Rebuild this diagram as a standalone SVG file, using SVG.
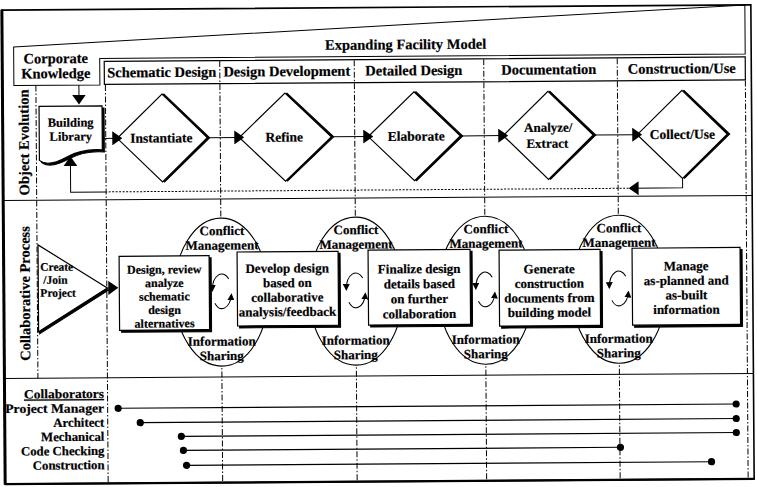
<svg xmlns="http://www.w3.org/2000/svg" width="757" height="487" viewBox="0 0 757 487">
  <style>
    .t { font-family: "Liberation Serif", "Times New Roman", serif; font-weight: bold; fill: #000; stroke: #000; stroke-width: 0.2; }
    .h { font-size: 14.5px; }
    .s { font-size: 13px; }
    .m { font-size: 13px; text-anchor: middle; }
    .k { font-size: 12.8px; text-anchor: end; }
    .c { text-anchor: middle; }
    .ln { stroke: #000; stroke-width: 1; fill: none; }
    .div { stroke: #000; stroke-width: 1; fill: none; stroke-dasharray: 6 2 1.5 2; }
    .dot { stroke: #000; stroke-width: 1; fill: none; stroke-dasharray: 2 1.5; }
    .box { fill: #fff; stroke: #000; stroke-width: 1.2; }
    .shd { fill: #000; stroke: #000; stroke-width: 1; }
    .ell { fill: #fff; stroke: #000; stroke-width: 1.1; }
  </style>
  <defs>
    <marker id="ah" viewBox="0 0 10 14" refX="5" refY="7" markerWidth="10" markerHeight="14" orient="auto" markerUnits="userSpaceOnUse">
      <path d="M0,0 L10,7 L0,14 Z" fill="#000"/>
    </marker>
    <marker id="sah" viewBox="0 0 8 8" refX="6" refY="4" markerWidth="7" markerHeight="7" orient="auto" markerUnits="userSpaceOnUse">
      <path d="M0,0 L8,4 L0,8 Z" fill="#000"/>
    </marker>
    <!-- two-arc exchange symbol between neighbouring tasks -->
    <g id="cycle">
      <path class="ln" d="M7,-12 A9.5 16 0 0 0 -9.5,-1" marker-end="url(#sah)"/>
      <path class="ln" d="M-7,12 A9.5 16 0 0 0 9.5,4" marker-end="url(#sah)"/>
    </g>
  </defs>

  <rect width="757" height="487" fill="#fff"/>

  <g transform="rotate(-0.4 378 243)">
    <!-- outer frame -->
    <g id="frame">
      <rect x="3.5" y="7.5" width="749" height="474" fill="none" stroke="#000" stroke-width="1.6"/>
      <line x1="3.5" y1="7" x2="3.5" y2="482" stroke="#000" stroke-width="3"/>
      <line x1="3" y1="481.5" x2="753" y2="481.5" stroke="#000" stroke-width="2.2"/>
    </g>

    <!-- header: expanding model band and phase headers -->
    <g id="header">
      <path class="ln" stroke-width="1.3" d="M15,44.5 L746.5,7.5 L746.5,56.5 L101,56.5 L101,83 L15,83 Z"/>
      <rect x="105.5" y="59.5" width="641" height="23" fill="none" stroke="#000" stroke-width="1.2"/>
      <text class="t h c" x="407" y="49.5">Expanding Facility Model</text>
      <text class="t h c" x="57" y="61">Corporate</text>
      <text class="t h c" x="57" y="76">Knowledge</text>
      <text class="t h c" x="163" y="75.5">Schematic Design</text>
      <text class="t h c" x="288" y="75.5">Design Development</text>
      <text class="t h c" x="415" y="75.5">Detailed Design</text>
      <text class="t h c" x="550" y="75.5">Documentation</text>
      <text class="t h c" x="683" y="75.5">Construction/Use</text>
    </g>

    <!-- swimlane grid -->
    <g id="grid">
      <line class="div" x1="37" y1="83" x2="37" y2="376"/>
      <line class="div" x1="106.5" y1="83" x2="106.5" y2="481"/>
      <line class="div" x1="221" y1="60" x2="221" y2="481"/>
      <line class="div" x1="355.5" y1="60" x2="355.5" y2="481"/>
      <line class="div" x1="485" y1="60" x2="485" y2="481"/>
      <line class="div" x1="618.5" y1="60" x2="618.5" y2="481"/>
      <line class="div" x1="746.5" y1="83" x2="746.5" y2="481"/>
      <line class="ln" stroke-width="1.4" x1="3" y1="198" x2="753" y2="198"/>
      <line class="ln" stroke-width="1.4" x1="3" y1="376" x2="753" y2="376"/>
      <text class="t h c" transform="translate(29.5 140) rotate(-90)">Object Evolution</text>
      <text class="t h c" transform="translate(29.5 291) rotate(-90)">Collaborative Process</text>
    </g>

    <!-- object evolution lane -->
    <g id="library">
      <path class="shd" d="M42,106 L105,106 L105,150 C93,149 80,151 69,157 C58,163 48,165 42,160 Z"/>
      <path class="box" d="M40,104 L103,104 L103,148 C91,147 78,149 67,155 C56,161 46,163 40,158 Z"/>
      <text class="t c" font-size="12.5" x="71.5" y="124.5">Building</text>
      <text class="t c" font-size="12.5" x="71.5" y="138.5">Library</text>
    </g>

    <g id="instantiate">
      <polygon class="shd" points="165,92.5 210.5,136.5 165,180.5 119.5,136.5"/>
      <polygon class="box" points="163,92.5 208,136.5 163,180.5 118,136.5"/>
      <text class="t c" font-size="13.5" x="162" y="141">Instantiate</text>
    </g>
    <g id="refine">
      <polygon class="shd" points="288,92.5 334.5,136.5 288,180.5 242.5,136.5"/>
      <polygon class="box" points="286,92.5 332,136.5 286,180.5 240,136.5"/>
      <text class="t c" font-size="13.5" x="285" y="141">Refine</text>
    </g>
    <g id="elaborate">
      <polygon class="shd" points="417,92 463.5,136.5 417,181 370.5,136.5"/>
      <polygon class="box" points="415,92 461,136.5 415,181 369,136.5"/>
      <text class="t c" font-size="13.5" x="417" y="141">Elaborate</text>
    </g>
    <g id="analyze">
      <polygon class="shd" points="551,92.5 596.5,136.5 551,180.5 505.5,136.5"/>
      <polygon class="box" points="549,92.5 594,136.5 549,180.5 504,136.5"/>
      <text class="t c" font-size="13" x="549" y="133">Analyze/</text>
      <text class="t c" font-size="13" x="548" y="149">Extract</text>
    </g>
    <g id="collect">
      <polygon class="shd" points="685,92.5 730.5,136.5 685,180.5 639.5,136.5"/>
      <polygon class="box" points="683,92.5 728,136.5 683,180.5 638,136.5"/>
      <text class="t c" font-size="13.5" x="683" y="141">Collect/Use</text>
    </g>

    <!-- collaborative process lane -->
    <g id="create-join">
      <polygon class="shd" points="39,244 39,331.5 108.5,288"/>
      <polygon class="box" points="38,242.5 38,329.5 107,286"/>
      <text class="t" font-size="11.5" x="40" y="268.5">Create</text>
      <text class="t" font-size="11.5" x="43" y="281.5">/Join</text>
      <text class="t" font-size="11.5" x="40" y="294.5">Project</text>
    </g>

    <g id="ellipses">
      <ellipse class="ell" cx="221" cy="291" rx="47" ry="74"/>
      <ellipse class="ell" cx="355.5" cy="291" rx="47" ry="74"/>
      <ellipse class="ell" cx="485" cy="291" rx="47" ry="74"/>
      <ellipse class="ell" cx="618.5" cy="291" rx="47" ry="74"/>
    </g>
    <g id="ellipse-labels" class="t s c">
      <text x="222" y="234">Conflict</text>
      <text x="222" y="248.5">Management</text>
      <text x="221" y="344.5">Information</text>
      <text x="221" y="359">Sharing</text>
      <text x="356" y="234">Conflict</text>
      <text x="356" y="248.5">Management</text>
      <text x="355" y="344.5">Information</text>
      <text x="355" y="359">Sharing</text>
      <text x="486" y="234">Conflict</text>
      <text x="486" y="248.5">Management</text>
      <text x="485" y="344.5">Information</text>
      <text x="485" y="359">Sharing</text>
      <text x="619" y="234">Conflict</text>
      <text x="619" y="248.5">Management</text>
      <text x="618" y="344.5">Information</text>
      <text x="618" y="359">Sharing</text>
    </g>

    <g id="task-schematic">
      <rect class="shd" x="121" y="256.5" width="90" height="74"/>
      <rect class="box" x="119" y="254.5" width="90" height="74"/>
      <text class="t c" font-size="12" x="164" y="272">Design, review</text>
      <text class="t c" font-size="12" x="164" y="285.5">analyze</text>
      <text class="t c" font-size="12" x="164" y="299">schematic</text>
      <text class="t c" font-size="12" x="164" y="312.5">design</text>
      <text class="t c" font-size="12" x="164" y="326">alternatives</text>
    </g>
    <g id="task-development">
      <rect class="shd" x="239" y="253" width="101" height="74"/>
      <rect class="box" x="237" y="251" width="101" height="74"/>
      <text class="t m" x="287" y="272">Develop design</text>
      <text class="t m" x="287" y="286.5">based on</text>
      <text class="t m" x="287" y="301">collaborative</text>
      <text class="t m" x="287" y="315.5">analysis/feedback</text>
    </g>
    <g id="task-detailed">
      <rect class="shd" x="370" y="252" width="102" height="75"/>
      <rect class="box" x="368" y="250" width="102" height="75"/>
      <text class="t m" x="419" y="273.5">Finalize design</text>
      <text class="t m" x="419" y="288.5">details based</text>
      <text class="t m" x="419" y="303.5">on further</text>
      <text class="t m" x="419" y="318.5">collaboration</text>
    </g>
    <g id="task-documentation">
      <rect class="shd" x="501" y="253" width="101" height="76"/>
      <rect class="box" x="499" y="251" width="101" height="76"/>
      <text class="t m" x="549" y="274.5">Generate</text>
      <text class="t m" x="549" y="289">construction</text>
      <text class="t m" x="549" y="303.5">documents from</text>
      <text class="t m" x="549" y="318">building model</text>
    </g>
    <g id="task-construction">
      <rect class="shd" x="634" y="252" width="108" height="77"/>
      <rect class="box" x="632" y="250" width="108" height="77"/>
      <text class="t m" x="686" y="272.5">Manage</text>
      <text class="t m" x="686" y="287">as-planned and</text>
      <text class="t m" x="686" y="301.5">as-built</text>
      <text class="t m" x="686" y="316">information</text>
    </g>

    <!-- collaborators lane -->
    <g id="collaborators">
      <text class="t k" x="103" y="396" text-decoration="underline" textLength="80" lengthAdjust="spacingAndGlyphs">Collaborators</text>
      <text class="t k" x="103" y="410.5" textLength="99" lengthAdjust="spacingAndGlyphs">Project Manager</text>
      <text class="t k" x="103" y="424.7">Architect</text>
      <text class="t k" x="103" y="438.9">Mechanical</text>
      <text class="t k" x="103" y="453.1">Code Checking</text>
      <text class="t k" x="103" y="467.3">Construction</text>
    </g>

    <!-- connectors -->
    <g id="connectors">
      <path class="ln" d="M80,83 L80,97.5" marker-end="url(#ah)"/>
      <path class="ln" d="M103,136.5 L118,136.5" marker-end="url(#ah)"/>
      <path class="ln" d="M208,136.5 L240,136.5" marker-end="url(#ah)"/>
      <path class="ln" d="M332,136.5 L369,136.5" marker-end="url(#ah)"/>
      <path class="ln" d="M461,136.5 L504,136.5" marker-end="url(#ah)"/>
      <path class="ln" d="M594,136.5 L638,136.5" marker-end="url(#ah)"/>
      <path class="ln" d="M683,180.5 L683,190 L634,190" marker-end="url(#ah)"/>
      <path class="dot" d="M629,190 L106.5,190"/>
      <path class="ln" d="M106.5,190 L71,190 L71,159" marker-end="url(#ah)"/>
      <path class="ln" d="M107,286 L113,286" marker-end="url(#ah)"/>
      <use href="#cycle" x="221.5" y="290"/>
      <use href="#cycle" x="355.5" y="290"/>
      <use href="#cycle" x="485" y="290"/>
      <use href="#cycle" x="618.5" y="290"/>
      <g stroke="#000" stroke-width="1.1">
        <line x1="117" y1="406.5" x2="735" y2="406.5"/>
        <line x1="139" y1="421" x2="735" y2="421"/>
        <line x1="180" y1="435" x2="735" y2="435"/>
        <line x1="182" y1="449" x2="619" y2="449"/>
        <line x1="185" y1="464" x2="710" y2="464"/>
      </g>
      <g fill="#000">
        <circle cx="117" cy="406.5" r="3.6"/><circle cx="735" cy="406.5" r="3.6"/>
        <circle cx="139" cy="421" r="3.6"/><circle cx="735" cy="421" r="3.6"/>
        <circle cx="180" cy="435" r="3.6"/><circle cx="735" cy="435" r="3.6"/>
        <circle cx="182" cy="449" r="3.6"/><circle cx="619" cy="449" r="3.6"/>
        <circle cx="185" cy="464" r="3.6"/><circle cx="710" cy="464" r="3.6"/>
      </g>
    </g>
  </g>
</svg>
